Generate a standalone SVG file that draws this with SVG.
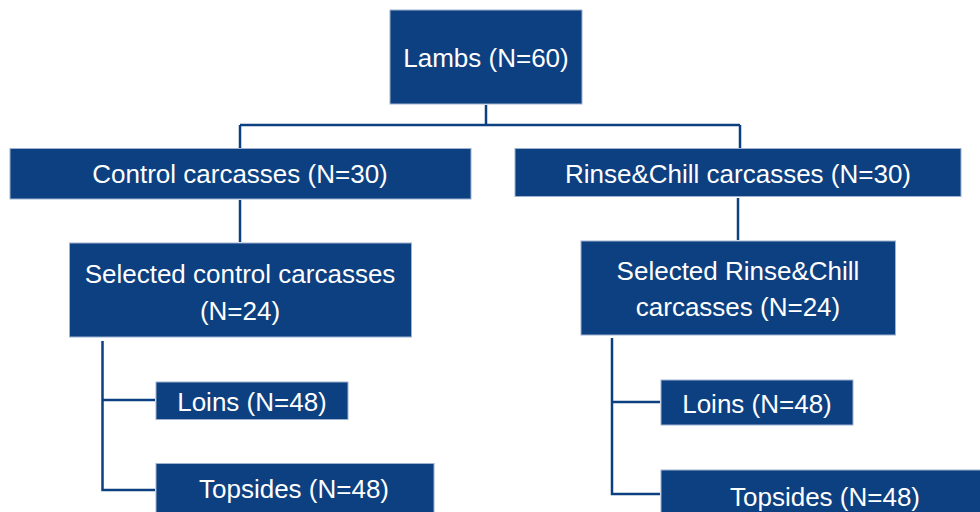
<svg xmlns="http://www.w3.org/2000/svg" width="980" height="512" viewBox="0 0 980 512">
  <style>
    .box { fill: #0d4080; stroke: #9fb2d0; stroke-width: 1; }
    .lbl { fill: #ffffff; font-family: "Liberation Sans", Arial, sans-serif; font-size: 26px; text-anchor: middle; }
    .conn { fill: none; stroke: #0d4080; stroke-width: 2.5; }
  </style>
  <rect width="980" height="512" fill="#ffffff"/>
  <g id="connectors">
    <path class="conn" d="M486,105 V125 M240,125 H740 M240,125 V148 M740,125 V148"/>
    <path class="conn" d="M240,200 V242"/>
    <path class="conn" d="M738,198 V240"/>
    <path class="conn" d="M102.5,341 V490 H155 M102.5,400 H155"/>
    <path class="conn" d="M612,338 V494 H660 M612,402 H660"/>
  </g>
  <g id="lambs">
    <rect class="box" x="390" y="10" width="192" height="94"/>
    <text class="lbl" x="486" y="67">Lambs (N=60)</text>
  </g>
  <g id="control">
    <rect class="box" x="10" y="148.5" width="461" height="50.5"/>
    <text class="lbl" x="240" y="183">Control carcasses (N=30)</text>
  </g>
  <g id="rinse">
    <rect class="box" x="515" y="148.5" width="446" height="48"/>
    <text class="lbl" x="738" y="183">Rinse&amp;Chill carcasses (N=30)</text>
  </g>
  <g id="selected-control">
    <rect class="box" x="69.5" y="243" width="342" height="94"/>
    <text class="lbl" x="240" y="283">Selected control carcasses</text>
    <text class="lbl" x="240" y="320">(N=24)</text>
  </g>
  <g id="selected-rinse">
    <rect class="box" x="581" y="241" width="314.5" height="94"/>
    <text class="lbl" x="738" y="280">Selected Rinse&amp;Chill</text>
    <text class="lbl" x="738" y="316">carcasses (N=24)</text>
  </g>
  <g id="loins-control">
    <rect class="box" x="156" y="382" width="192" height="37.5"/>
    <text class="lbl" x="252" y="411">Loins (N=48)</text>
  </g>
  <g id="topsides-control">
    <rect class="box" x="156" y="463.5" width="278" height="60"/>
    <text class="lbl" x="294" y="498">Topsides (N=48)</text>
  </g>
  <g id="loins-rinse">
    <rect class="box" x="661" y="380" width="192" height="45"/>
    <text class="lbl" x="757" y="413">Loins (N=48)</text>
  </g>
  <g id="topsides-rinse">
    <rect class="box" x="661" y="470" width="330" height="60"/>
    <text class="lbl" x="825" y="506">Topsides (N=48)</text>
  </g>
</svg>
